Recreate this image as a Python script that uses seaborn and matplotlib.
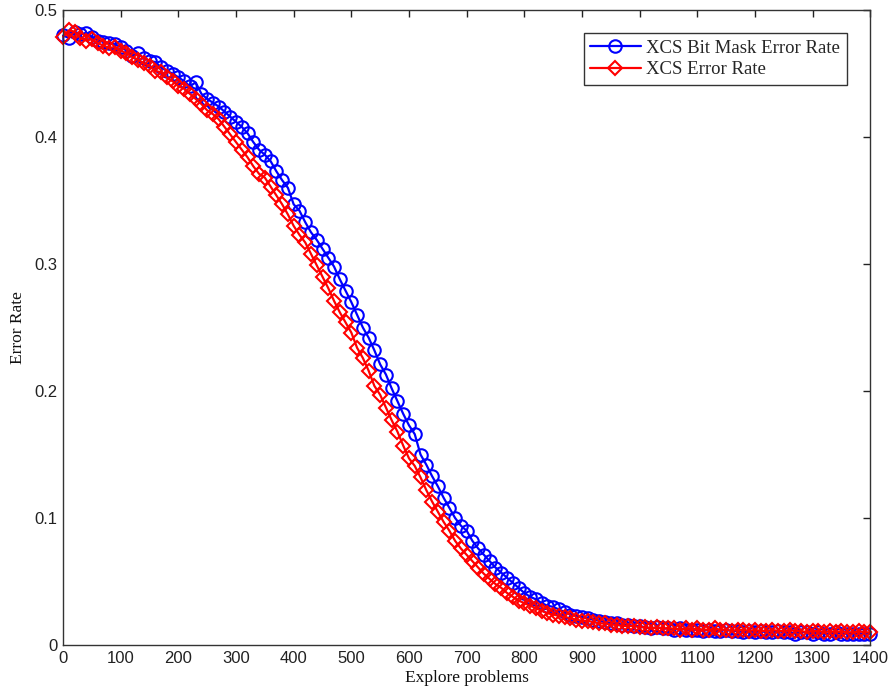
import numpy as np
import pandas as pd
import matplotlib
matplotlib.use("Agg")
import matplotlib.pyplot as plt
import seaborn as sns

x_values = list(range(0, 1401, 10))

bitmask_error = [
    0.480, 0.478, 0.483, 0.481, 0.482, 0.479, 0.476, 0.475, 0.474, 0.473,
    0.471, 0.468, 0.464, 0.466, 0.462, 0.460, 0.459, 0.455, 0.452, 0.450,
    0.447, 0.444, 0.440, 0.443, 0.434, 0.430, 0.427, 0.424, 0.420, 0.416,
    0.412, 0.408, 0.403, 0.396, 0.390, 0.386, 0.381, 0.373, 0.366, 0.360,
    0.347, 0.342, 0.333, 0.325, 0.319, 0.312, 0.305, 0.298, 0.288, 0.279,
    0.270, 0.260, 0.250, 0.242, 0.232, 0.221, 0.213, 0.202, 0.192, 0.182,
    0.173, 0.166, 0.150, 0.142, 0.133, 0.125, 0.116, 0.108, 0.100, 0.094,
    0.090, 0.082, 0.076, 0.071, 0.066, 0.061, 0.057, 0.053, 0.049, 0.045,
    0.041, 0.038, 0.036, 0.033, 0.031, 0.030, 0.028, 0.026, 0.024, 0.023,
    0.022, 0.021, 0.020, 0.019, 0.018, 0.017, 0.017, 0.016, 0.016, 0.015,
    0.015, 0.014, 0.013, 0.014, 0.013, 0.013, 0.012, 0.013, 0.012, 0.012,
    0.012, 0.011, 0.012, 0.011, 0.011, 0.012, 0.011, 0.011, 0.010, 0.011,
    0.010, 0.011, 0.010, 0.010, 0.011, 0.010, 0.010, 0.009, 0.010, 0.010,
    0.009, 0.010, 0.009, 0.009, 0.010, 0.009, 0.009, 0.009, 0.009, 0.009,
    0.009,
]

xcs_error = [
    0.479, 0.484, 0.483, 0.478, 0.476, 0.477, 0.474, 0.472, 0.470, 0.471,
    0.468, 0.466, 0.463, 0.461, 0.458, 0.456, 0.452, 0.451, 0.447, 0.444,
    0.440, 0.438, 0.434, 0.430, 0.426, 0.421, 0.418, 0.414, 0.408, 0.402,
    0.396, 0.390, 0.384, 0.377, 0.371, 0.368, 0.361, 0.354, 0.347, 0.339,
    0.330, 0.323, 0.317, 0.308, 0.299, 0.290, 0.281, 0.271, 0.262, 0.254,
    0.246, 0.234, 0.226, 0.216, 0.204, 0.197, 0.187, 0.177, 0.168, 0.157,
    0.147, 0.141, 0.132, 0.122, 0.113, 0.105, 0.097, 0.090, 0.082, 0.076,
    0.071, 0.066, 0.061, 0.056, 0.052, 0.048, 0.045, 0.041, 0.038, 0.035,
    0.033, 0.031, 0.029, 0.027, 0.025, 0.024, 0.023, 0.022, 0.021, 0.020,
    0.019, 0.019, 0.018, 0.017, 0.017, 0.016, 0.016, 0.015, 0.015, 0.015,
    0.014, 0.014, 0.013, 0.014, 0.013, 0.013, 0.013, 0.012, 0.013, 0.012,
    0.013, 0.012, 0.012, 0.013, 0.012, 0.012, 0.011, 0.012, 0.012, 0.011,
    0.012, 0.011, 0.011, 0.012, 0.011, 0.011, 0.012, 0.011, 0.011, 0.010,
    0.011, 0.011, 0.010, 0.011, 0.010, 0.011, 0.010, 0.010, 0.011, 0.010,
    0.010,
]

series_names = ["XCS Bit Mask Error Rate", "XCS Error Rate"]
x_ticks = list(range(0, 1401, 100))
y_ticks = [0, 0.1, 0.2, 0.3, 0.4, 0.5]
y_tick_labels = ["0", "0.1", "0.2", "0.3", "0.4", "0.5"]

sns.set_style("white")
plt.rcParams["font.family"] = ["Liberation Sans", "DejaVu Sans"]

fig = plt.figure(figsize=(8.88, 6.97), dpi=100)
ax = fig.add_axes([0.071, 0.0746, 0.909, 0.911])

sns.lineplot(x=x_values, y=bitmask_error, ax=ax, color="#0000ff", linewidth=1.6,
             marker="o", markersize=9, markerfacecolor="none",
             markeredgecolor="#0000ff", markeredgewidth=1.5,
             label=series_names[0], clip_on=False)
sns.lineplot(x=x_values, y=xcs_error, ax=ax, color="#ff0000", linewidth=1.6,
             marker="D", markersize=7.5, markerfacecolor="none",
             markeredgecolor="#ff0000", markeredgewidth=1.5,
             label=series_names[1], clip_on=False)

ax.set_xlim(0, 1400)
ax.set_ylim(0, 0.5)
ax.set_xticks(x_ticks)
ax.set_xticklabels([str(t) for t in x_ticks])
ax.set_yticks(y_ticks)
ax.set_yticklabels(y_tick_labels)
ax.tick_params(direction="in", length=5, width=1, top=True, right=True,
               labelsize=12, colors="#222222", pad=4)
for s in ax.spines.values():
    s.set_visible(True)
    s.set_color("#333333")
    s.set_linewidth(1.0)

ax.set_xlabel("Explore problems", family=["Liberation Serif"], fontsize=12.5,
              color="#111111", labelpad=3)
ax.set_ylabel("Error Rate", family=["Liberation Serif"], fontsize=12.5,
              color="#111111", labelpad=6)

leg = ax.legend(loc="upper right", bbox_to_anchor=(0.971, 0.964),
                borderaxespad=0,
                prop={"family": "Liberation Serif", "size": 13.5},
                frameon=True, fancybox=False, edgecolor="#000000",
                borderpad=0.35, handlelength=2.7, handletextpad=0.3,
                labelspacing=0.25)
leg.get_frame().set_linewidth(1.0)

fig.savefig("out.png", dpi=100)
